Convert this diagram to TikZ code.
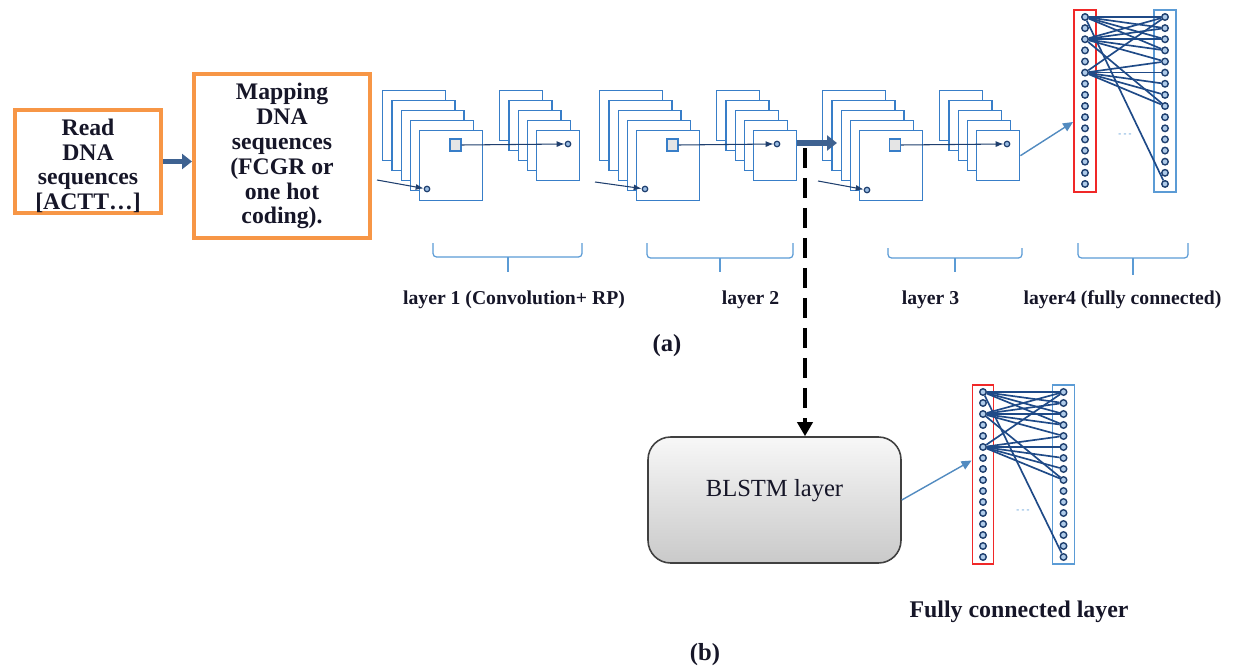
\documentclass[tikz,border=0pt]{standalone}
\usepackage{fontspec}
\setmainfont{Liberation Serif}
\usetikzlibrary{arrows.meta,calc}
\definecolor{orng}{RGB}{247,150,70}
\definecolor{mapblue}{RGB}{56,126,200}
\definecolor{brblue}{RGB}{91,155,213}
\definecolor{darkarr}{RGB}{31,63,110}
\definecolor{thickblue}{RGB}{62,98,145}
\definecolor{fcline}{RGB}{31,74,135}
\definecolor{txtdark}{RGB}{22,22,40}
\definecolor{fcred}{RGB}{240,40,40}
\tikzset{
  obox/.style={draw=orng, line width=2.3pt, fill=white, inner sep=0pt, align=center,
    font=\fontsize{13.5}{14.2}\selectfont\bfseries, text=txtdark},
  bigmap/.style={draw=mapblue, fill=white, line width=0.8pt, minimum width=1.26cm,
    minimum height=1.4cm, inner sep=0pt, anchor=north west},
  smallmap/.style={draw=mapblue, fill=white, line width=0.8pt, minimum width=0.86cm,
    minimum height=1.0cm, inner sep=0pt, anchor=north west},
  inbox/.style={draw=mapblue, fill=gray!20, line width=0.7pt, minimum width=0.22cm,
    minimum height=0.24cm, inner sep=0pt},
  mdot/.style={draw=darkarr, fill=mapblue!50, circle, line width=0.7pt, minimum size=0.11cm, inner sep=0pt},
  fdot/.style={draw=darkarr, fill=mapblue!40, circle, line width=0.8pt, minimum size=0.13cm, inner sep=0pt},
  conn/.style={draw=darkarr, line width=0.6pt, -{Latex[length=0.16cm,width=0.12cm]}},
  thickarr/.style={draw=thickblue, line width=3.2pt, -{Triangle[length=0.2cm,width=0.3cm]}},
  fcl/.style={draw=fcline, line width=0.95pt},
  inarr/.style={draw=brblue!90!black, line width=0.8pt, -{Triangle[length=0.2cm,width=0.18cm]}},
  brace/.style={draw=brblue, line width=0.7pt, rounded corners=2pt},
  lab/.style={font=\fontsize{11.2}{13}\selectfont\bfseries, text=txtdark},
  redcol/.style={draw=fcred, line width=1.1pt, inner sep=0pt},
  bluecol/.style={draw=brblue, line width=1.1pt, inner sep=0pt},
  blstm/.style={draw=black!75, line width=0.9pt, rounded corners=0.45cm, top color=gray!6,
    bottom color=gray!42, minimum width=5.06cm, minimum height=2.52cm, inner sep=0pt},
  dashedarr/.style={draw=black, line width=2.8pt, dash pattern=on 0.4cm off 0.2cm,
    -{Triangle[length=0.28cm,width=0.3cm]}},
}
\begin{document}
\begin{tikzpicture}[x={(0.02cm,0)}, y={(0,-0.02cm)}]
\useasboundingbox (0,0) rectangle (1237,669);

% input boxes
\node[obox, minimum width=2.92cm, minimum height=2.06cm] (box1) at (88,161.5)
  {\raisebox{-0.12cm}[\height][\depth]{\begin{tabular}{@{}c@{}}Read\\DNA\\sequences\\{[}ACTT\ldots{]}\end{tabular}}};
\node[obox, minimum width=3.52cm, minimum height=3.28cm] (box2) at (282,156)
  {Mapping\\DNA\\sequences\\(FCGR or\\one hot\\coding).};
\draw[thickarr, line width=2.8pt] (box1.east) -- (box1.east -| box2.west);

% feature map stacks
\foreach \i in {0,...,4} \node[bigmap] (Lab\i) at ({382+9.25*\i},{90+10*\i}) {};
\foreach \i in {0,...,4} \node[smallmap] (Las\i) at ({499+9.25*\i},{90+10*\i}) {};
\foreach \i in {0,...,4} \node[bigmap] (Lbb\i) at ({599+9.25*\i},{90+10*\i}) {};
\foreach \i in {0,...,4} \node[smallmap] (Lbs\i) at ({716+9.25*\i},{90+10*\i}) {};
\foreach \i in {0,...,4} \node[bigmap] (Lcb\i) at ({822+9.25*\i},{90+10*\i}) {};
\foreach \i in {0,...,4} \node[smallmap] (Lcs\i) at ({939+9.25*\i},{90+10*\i}) {};

% inner windows and connections
\node[inbox] (qa) at (455.5,145) {};
\node[inbox] (qb) at (672.5,145) {};
\node[inbox] (qc) at (895,145) {};
\node[mdot] (oa) at (568,144) {};
\node[mdot] (ob) at (777,144) {};
\node[mdot] (oc) at (1007,144) {};
\node[mdot] (ia) at (427,189) {};
\node[mdot] (ib) at (645,189) {};
\node[mdot] (ic) at (867,190) {};
\coordinate (sa) at (377,180);
\coordinate (sb) at (595,182);
\coordinate (sc) at (818,181);
\draw[conn] (qa.east) -- (oa.west);
\draw[conn] (qb.east) -- (ob.west);
\draw[conn] (qc.east) -- (oc.west);
\draw[conn] (sa) -- (ia);
\draw[conn] (sb) -- (ib);
\draw[conn] (sc) -- (ic);

% thick arrow layer2 -> layer3
\coordinate (t3) at (837,143);
\draw[thickarr] (Lbs4.east |- t3) -- (t3);

% fully connected layer (a)
\node[redcol, minimum width=0.44cm, minimum height=3.64cm] (redA) at (1085,101) {};
\node[bluecol, minimum width=0.44cm, minimum height=3.64cm] (bluA) at (1165,101) {};
\foreach \i in {0,...,15} {
  \node[fdot] (ra\i) at (1085,{17+11.13*\i}) {};
  \node[fdot] (ba\i) at (1165,{17+11.13*\i}) {};
}
\foreach \a/\b in {0/0,0/1,0/2,0/3,0/15,2/0,2/1,2/2,2/3,2/4,2/8,5/0,5/4,5/5,5/6,5/7,5/8}
  \draw[fcl] (ra\a) -- (ba\b);
\node[text=brblue, font=\tiny\bfseries] (dotsA) at (1125,135) {- - -};
\draw[inarr] (Lcs4.east) -- ($(redA.west)+(0,21)$);

% braces
\draw[brace] (433,243) -- (433,257) -- (582,257) -- (582,243);
\draw[brace] (508,257) -- (508,272);
\draw[brace] (647,243) -- (647,258) -- (793,258) -- (793,243);
\draw[brace] (720,258) -- (720,272);
\draw[brace] (888,248) -- (888,258) -- (1022,258) -- (1022,248);
\draw[brace] (955,258) -- (955,272);
\draw[brace] (1078,243) -- (1078,258) -- (1188,258) -- (1188,243);
\draw[brace] (1133,258) -- (1133,275);

\node[lab] (l1) at (514,300) {layer 1 (Convolution+ RP)};
\node[lab] (l2) at (750.5,300) {layer 2};
\node[lab] (l3) at (930.5,300) {layer 3};
\node[lab] (l4) at (1122.5,300) {layer4 (fully connected)};
\node[font=\fontsize{14}{16}\selectfont\bfseries, text=txtdark] (capa) at (667,346) {(a)};

% BLSTM branch
\node[blstm] (bl) at (774.5,500) {};
\node[font=\fontsize{14}{16}\selectfont, text=txtdark] (bltxt) at ($(bl.center)+(0,-9)$) {BLSTM layer};
\coordinate (ds) at (805,148);
\draw[dashedarr] (ds) -- (ds |- bl.north);

% fully connected layer (b)
\node[redcol, minimum width=0.42cm, minimum height=3.58cm] (redB) at (983,474.5) {};
\node[bluecol, minimum width=0.44cm, minimum height=3.58cm] (bluB) at (1063.5,474.5) {};
\foreach \i in {0,...,15} {
  \node[fdot] (rb\i) at (983,{392+11*\i}) {};
  \node[fdot] (bb\i) at (1063.5,{392+11*\i}) {};
}
\foreach \a/\b in {0/0,0/1,0/2,0/3,0/15,2/0,2/1,2/2,2/3,2/4,2/8,5/0,5/4,5/5,5/6,5/7,5/8}
  \draw[fcl] (rb\a) -- (bb\b);
\node[text=brblue, font=\tiny\bfseries] (dotsB) at (1023,511) {- - -};
\draw[inarr] (bl.east) -- ($(redB.west)+(0,-14)$);

\node[font=\fontsize{13.6}{16}\selectfont\bfseries, text=txtdark] (fcb) at (1019,612) {Fully connected layer};
\node[font=\fontsize{14}{16}\selectfont\bfseries, text=txtdark] (capb) at (705,655) {(b)};
\end{tikzpicture}
\end{document}
